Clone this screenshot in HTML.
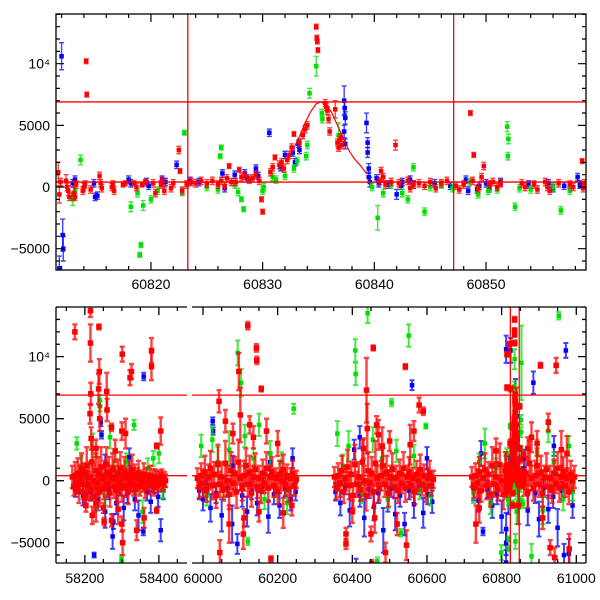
<!DOCTYPE html>
<html><head><meta charset="utf-8"><style>
html,body{margin:0;padding:0;background:#fff}
svg{display:block;font-family:"Liberation Sans",sans-serif}
</style></head><body>
<svg id="c" width="600" height="600" viewBox="0 0 600 600"></svg>
<script>
// ---- data: flat [time, value, error] triples ----
const topRed=[60811.7,1200,800,60811.8,-600,700,60811.9,400,300,60812.4,500,500,60812.5,0,300,60812.6,-300,400,60812.7,-800,300,60813.1,-500,500,60813.2,-800,300,60813.3,200,300,60813.9,-300,300,60814.0,0,300,60814.1,200,300,60814.2,10200,200,60814.25,7500,200,60814.6,-200,300,60815.4,900,300,60815.5,300,300,60815.6,-100,300,60816.5,0,300,60816.6,200,300,60816.7,-300,300,60817.5,200,200,60817.7,300,200,60818.5,300,200,60818.7,0,300,60819.2,200,200,60819.5,400,200,60820.2,300,300,60820.4,-500,300,60820.9,200,300,60821.0,500,300,60821.2,-300,300,60821.8,-100,300,60822.0,300,300,60822.5,3000,300,60822.6,1300,200,60822.8,-300,300,60823.2,200,300,60823.6,400,300,60824.0,300,300,60824.5,500,300,60825.0,300,300,60825.5,500,300,60826.0,200,300,60826.3,500,300,60826.6,100,300,60826.8,700,300,60827.0,1700,200,60827.2,400,300,60827.6,400,300,60827.9,1400,200,60828.1,800,300,60828.4,900,300,60828.8,600,300,60829.1,700,300,60829.4,1000,300,60829.7,500,300,60829.9,-1000,200,60830.0,-2000,200,60830.7,1200,300,60830.9,1600,300,60831.1,2400,200,60831.5,1800,300,60831.7,2000,300,60831.9,1500,300,60832.2,2200,300,60832.4,2600,300,60832.6,3200,300,60832.8,4300,200,60833.3,3600,300,60833.6,4200,300,60833.8,4700,300,60834.0,5000,300,60834.8,13000,200,60834.85,12100,200,60834.9,11800,200,60834.95,11100,200,60835.6,6800,300,60835.7,6500,300,60835.8,6200,300,60835.9,5500,300,60836.0,4500,300,60836.5,6300,700,60836.7,3600,300,60836.8,3200,300,60836.9,3800,300,60837.0,4000,300,60837.1,3400,300,60841.9,3400,400,60840.6,1300,300,60840.8,800,300,60840.5,500,300,60841.0,200,300,60841.5,400,300,60842.2,300,300,60843.0,500,300,60843.2,-100,300,60843.5,200,300,60844.0,300,300,60844.5,100,300,60845.0,400,300,60845.5,-100,300,60846.0,300,300,60846.5,500,300,60847.3,100,300,60847.6,-200,300,60848.0,200,300,60848.6,6000,200,60848.9,2600,200,60848.8,500,300,60849.3,-100,300,60849.8,1700,300,60849.6,800,300,60850.3,200,300,60850.6,400,300,60851.0,0,300,60851.3,300,300,60853.2,300,300,60853.5,0,300,60854.3,200,300,60854.6,-200,300,60855.3,400,300,60855.5,0,300,60855.7,-300,300,60856.5,300,300,60857.5,200,300,60857.8,0,300,60858.6,2100,200,60858.7,-100,300,60858.8,300,300];
const topBlue=[60811.8,-6600,1000,60812.0,10600,1100,60812.1,-3900,1300,60812.15,-5000,1000,60813.0,300,300,60813.2,600,300,60813.1,-700,300,60815.0,-800,300,60815.2,-700,300,60814.9,300,300,60818.0,600,300,60818.2,300,300,60819.6,400,300,60819.8,100,300,60821.0,600,300,60821.3,400,300,60822.3,1800,300,60823.5,500,300,60824.3,400,300,60826.4,1100,300,60826.6,-100,300,60827.5,1000,300,60828.4,1100,300,60828.6,700,300,60829.4,1500,300,60829.6,900,300,60830.6,4400,300,60831.6,1600,300,60832.0,2600,300,60832.7,2800,300,60832.9,2000,300,60833.2,3500,300,60833.3,3000,300,60837.3,7000,1200,60837.35,6400,500,60837.4,5600,500,60837.3,4500,500,60837.4,3500,400,60839.3,5200,800,60839.4,3600,400,60839.4,2800,400,60839.5,1500,400,60839.5,800,400,60839.6,400,400,60840.4,300,300,60840.2,700,300,60841.3,200,300,60842.0,-600,400,60842.4,100,300,60842.5,400,300,60843.2,600,300,60843.5,200,300,60845.4,300,300,60846.8,100,300,60848.2,600,300,60848.4,-300,300,60849.2,-200,300,60849.4,100,300,60850.0,300,300,60850.3,-100,300,60851.3,400,300,60853.8,200,300,60855.6,300,300,60856.0,-100,300,60857.0,100,300,60858.2,800,300,60858.4,200,300];
const topGreen=[60813.0,-1000,500,60813.2,-300,400,60813.7,2200,400,60818.2,-1600,400,60818.8,-500,300,60819.0,-5500,200,60819.1,-4700,200,60819.3,-1500,400,60820.0,-1000,300,60820.6,-300,300,60822.8,-400,300,60823.0,4400,200,60825.0,0,300,60826.0,-200,300,60826.2,2500,200,60826.3,3200,200,60827.5,200,300,60827.8,-400,300,60828.1,-1000,200,60828.3,-1800,200,60830.0,-300,300,60830.1,0,300,60830.9,800,300,60831.2,600,300,60832.0,900,300,60832.8,1500,300,60833.1,2100,300,60833.9,2500,300,60834.0,3400,300,60834.2,7600,400,60834.8,9800,800,60835.3,6000,300,60835.35,5500,300,60836.8,4200,1000,60839.8,0,300,60840.3,-2500,1000,60840.8,-500,300,60841.5,200,300,60842.5,-500,300,60843.0,-1000,300,60843.5,1600,300,60844.5,-2000,300,60845.0,0,300,60846.0,200,300,60847.0,-100,300,60848.5,400,300,60849.3,-600,300,60850.2,-300,300,60851.0,-200,300,60851.9,4900,400,60852.0,3900,400,60851.95,2500,300,60852.6,-1600,300,60853.0,-100,300,60854.0,-200,300,60856.0,0,300,60856.7,-1900,300,60857.5,-300,300];
const botRed=[58166,300,900,58170,-500,700,58174,400,1100,58177,-200,800,58181,600,1200,58184,-900,900,58188,200,1000,58191,900,1300,58195,-300,1200,58198,500,900,58202,-1100,1000,58205,1200,1500,58209,-400,1100,58212,300,1200,58216,-700,900,58219,1500,1800,58223,0,1200,58226,-1300,1200,58230,800,1400,58233,-200,1000,58237,600,1300,58240,-900,1200,58244,1100,1600,58247,200,1000,58251,-600,900,58254,400,1200,58258,1300,1400,58261,-300,1000,58265,700,1200,58268,-1000,1100,58272,300,900,58275,900,1300,58279,-500,900,58282,200,1000,58286,-800,1000,58289,600,1100,58293,-200,800,58296,1000,1300,58300,-600,1100,58303,300,900,58307,700,1200,58310,-400,900,58314,200,800,58317,-900,1000,58321,500,1100,58324,0,800,58328,900,1200,58331,-300,900,58335,400,900,58338,-700,1000,58342,200,800,58345,600,1000,58349,-400,800,58352,100,700,58356,-200,700,58359,500,900,58363,-600,800,58366,300,700,58370,0,600,58373,-400,700,58377,400,800,58380,-200,700,58384,200,700,58387,-500,700,58391,300,600,58394,0,700,58398,-300,600,58401,200,600,58405,-100,700,58408,300,600,58412,-200,600,58415,100,600,58418,0,500,
58173,12000,600,58215,13700,500,58215,11100,1500,58216,7000,900,58214,5400,800,58217,3400,900,58238,12400,200,58239,8800,1000,58237,7400,1200,58240,5000,1000,58259,7200,1500,58260,5700,900,58272,4300,300,58272,-3200,500,58301,10200,600,58300,4000,700,58322,8300,600,58326,8800,600,58380,10500,1000,58380,9200,1100,58394,2800,200,58394,-2400,200,58405,4000,1100,58250,-2200,400,58252,-3300,300,58300,-3500,600,58302,-5000,1000,58340,-4000,800,58200,-1400,600,58203,-2000,500,58220,-2800,700,58230,-1800,1500,58290,-2300,1200,58360,-3000,800,58310,3800,1200,58230,2600,700,58282,2400,900,
59985,200,800,59990,-500,900,59995,400,1000,60000,-200,1100,60005,700,1300,60010,-800,900,60015,300,1000,60020,1000,1400,60025,-400,1100,60030,500,1000,60035,-1200,1000,60040,1300,1600,60045,-300,1000,60050,300,1200,60055,-700,900,60060,1400,1800,60065,0,1200,60070,-1100,1200,60075,800,1500,60080,-200,1000,60085,600,1300,60090,-900,1300,60095,1500,1800,60100,200,1000,60105,-600,1000,60110,400,1200,60115,1200,1400,60120,-300,1000,60125,700,1300,60130,-1000,1100,60135,300,900,60140,900,1300,60145,-500,900,60150,200,1000,60155,-800,1000,60160,600,1100,60165,-200,800,60170,1000,1300,60175,-600,1100,60180,300,900,60185,700,1200,60190,-400,900,60195,200,800,60200,-900,1000,60205,500,1100,60210,0,800,60215,900,1200,60220,-300,900,60225,400,900,60230,-700,1000,60235,200,800,60240,600,1000,60245,-400,800,60250,100,700,
60043,6400,900,60045,-5800,1000,60096,8800,1500,60108,-4300,1200,60120,12500,300,60143,10700,300,60144,9700,300,60156,7400,200,60182,-6300,200,60060,4800,900,60070,-3500,1500,60100,5300,2200,60110,-3000,700,60125,4500,700,60135,3500,900,60170,4000,1000,60200,3000,1000,60215,-2600,1200,60238,-2000,800,60080,3800,800,60150,-2500,800,
60352,300,800,60357,-600,900,60362,400,1000,60367,-200,1100,60372,800,1200,60377,-900,900,60382,200,1000,60387,1100,1400,60392,-400,1100,60397,500,1000,60402,-1200,1000,60407,1300,1600,60412,-300,1000,60417,300,1200,60422,-700,900,60427,1500,1800,60432,0,1200,60437,-1200,1200,60442,800,1500,60447,-200,1000,60452,600,1300,60457,-900,1300,60462,1400,1800,60467,200,1000,60472,-600,1000,60477,400,1200,60482,1200,1400,60487,-300,1000,60492,700,1300,60497,-1000,1100,60502,300,900,60507,900,1300,60512,-500,900,60517,200,1000,60522,-800,1000,60527,600,1100,60532,-200,800,60537,1000,1300,60542,-600,1100,60547,300,900,60552,700,1200,60557,-400,900,60562,200,800,60567,-900,1000,60572,500,1100,60577,0,800,60582,900,1200,60587,-300,900,60592,400,900,60597,-700,1000,60602,200,800,60607,600,1000,60612,-400,800,60617,100,700,
60438,7300,2600,60440,4200,2000,60456,10700,200,60542,9200,200,60579,6100,600,60590,5600,300,60383,-5100,400,60383,-4300,500,60450,-4300,600,60452,-6700,300,60489,-5800,800,60470,3700,1200,60465,4500,700,60480,2800,1500,60500,3200,800,60520,-3500,900,60555,2900,1600,60545,-5200,1200,60565,4000,800,60400,-2500,900,60460,-3000,1200,60430,2600,800,
60720,300,800,60725,-500,900,60730,400,1000,60735,-200,1100,60740,700,1200,60745,-800,900,60750,200,1000,60755,900,1300,60760,-400,1100,60765,500,1000,60770,-1100,1000,60775,1200,1500,60780,-300,1000,60785,300,1200,60790,-700,900,60795,1300,1700,60800,0,1200,60805,-1100,1200,60810,800,1500,60860,-200,1000,60865,600,1300,60870,-900,1300,60875,1400,1800,60880,200,1000,60885,-600,1000,60890,400,1200,60895,1200,1400,60900,-300,1000,60905,700,1300,60910,-1000,1100,60915,300,900,60920,900,1300,60925,-500,900,60930,200,1000,60935,-800,1000,60940,600,1100,60945,-200,800,60950,1000,1300,60955,-600,1100,60960,300,900,60965,700,1200,60970,-400,900,60975,200,800,60980,-900,1000,60985,500,1100,60990,0,800,60995,300,900,
60821,11000,200,60825,7400,200,60904,9300,200,60946,9300,600,60731,-3500,1500,60930,-5400,600,60942,-6200,800,60981,-5500,1200,60840,4500,3000,60845,-2000,1500,60880,3500,1200,60895,3000,1000,60960,2500,1500,60910,-3000,900,60870,2600,900,60925,4700,700,60975,2200,1400,60740,-2200,1200,60785,2400,1000];
const botBlue=[58175,-700,600,58185,-300,500,58195,-1200,800,58205,200,600,58215,-900,700,58225,-6000,200,58235,-1500,900,58243,4700,300,58245,3700,300,58255,-2500,1300,58265,-800,700,58275,-4500,1000,58277,-3300,600,58285,-1800,900,58295,-600,600,58305,-2200,1000,58315,-1000,800,58325,-300,600,58335,-1500,900,58345,-2800,1200,58358,-4100,300,58359,8400,300,58368,-900,700,58378,-1700,900,58388,-400,600,58398,-1300,800,58405,-4000,900,58412,-800,700,58255,1300,800,58320,1900,700,
59990,-800,700,60000,-1500,900,60010,-400,600,60020,-2200,1100,60026,4800,300,60027,4000,300,60035,-1000,800,60050,-2800,1300,60065,-600,700,60078,-3500,1500,60092,-5100,800,60105,-1200,900,60118,-2500,1200,60130,-800,700,60145,-1800,1000,60160,-400,600,60175,-2900,1300,60190,-1100,800,60205,-2000,1000,60220,-600,700,60235,-1500,900,60248,-900,700,60080,1200,800,60180,1500,700,60240,1800,800,
60355,-900,700,60368,-1800,1000,60380,-500,600,60393,-2400,1300,60405,2500,800,60410,-6900,600,60420,-1200,900,60432,-3000,1500,60445,-700,700,60458,-2100,1100,60470,-1000,800,60483,-4000,1800,60495,-1500,1000,60505,-600,700,60515,-2700,1300,60528,-1200,900,60540,-3500,900,60552,-800,700,60560,7700,400,60565,-1900,1100,60578,-500,600,60590,-2600,1200,60602,-1100,800,60614,-1700,900,60420,3500,900,60600,1800,900,
60725,-900,700,60738,-1600,900,60745,2200,1000,60750,-4100,300,60762,-700,700,60775,-2000,1000,60788,-1100,800,60800,-2900,1300,60824,10500,1000,60818,-1500,1200,60870,-2400,1200,60885,7900,900,60890,-1000,800,60900,-3100,1400,60912,-600,700,60925,-2300,1100,60938,-1300,900,60950,-3800,1500,60962,-800,700,60967,-6000,900,60972,10500,600,60980,-5900,1200,60990,-2000,1000,60860,1800,700,60940,2800,800];
const botGreen=[58178,3000,500,58190,1200,800,58205,-600,700,58222,2600,1200,58240,6500,400,58241,6000,400,58255,-1200,800,58268,3500,900,58280,800,900,58299,-6300,300,58300,-6700,200,58312,1500,700,58333,4500,400,58345,-400,700,58356,-2500,900,58370,1000,800,58385,1800,600,58400,2200,800,58410,-800,600,58230,-1200,1200,
59995,2800,900,60010,-1200,800,60025,3300,1000,60040,1500,1200,60055,-800,700,60070,2500,1500,60093,10300,1000,60102,7900,1100,60112,3600,900,60120,-4900,300,60135,1800,800,60150,4500,900,60165,-1500,800,60180,2200,1000,60195,-600,700,60210,1500,800,60225,-1800,900,60243,5800,400,
60360,3800,1000,60375,1200,900,60390,2800,1200,60408,10500,900,60409,8600,900,60425,-1000,800,60441,13500,800,60455,3300,1000,60467,-6500,300,60480,1800,800,60495,-1500,700,60505,6300,300,60518,2400,900,60530,-4200,300,60551,11700,900,60565,2000,900,60580,-800,700,60597,4400,200,60610,-1200,800,
60725,-1000,800,60740,1500,700,60755,3000,1200,60770,-1800,900,60785,1000,800,60799,-5800,600,60837,-4900,600,60853,9500,3000,60880,-6100,1000,60895,2300,1000,60910,-2400,1100,60925,4000,900,60940,1500,800,60953,13300,300,60965,-1500,900,60980,2800,800,60990,-900,700];
const modelT=[60832.1,60832.7,60833.3,60833.8,60834.3,60834.8,60835.2,60835.7,60836.2,60836.7,60837.2,60837.7,60838.2,60838.7,60839.3];
const modelV=[2080,3000,4100,5200,6100,6750,6900,6700,6000,5000,4000,3000,2300,1800,1100];
const hLines=[6900,400];
const vLines=[60823.3,60847.1];
const topXTicks=[60820,60830,60840,60850];
const botXTicks=[58200,58400,60000,60200,60400,60600,60800,61000];
const yTicks=[-5000,0,5000,10000];
const yTickLabels=["\u22125000","0","5000","10\u2074"];

const NS="http://www.w3.org/2000/svg";
const svg=document.getElementById('c');
function mk(tag,at,parent){const e=document.createElementNS(NS,tag);for(const k in at)e.setAttribute(k,at[k]);(parent||svg).appendChild(e);return e;}
const defs=mk('defs',{});

const topP={x0:56,x1:586,y0:14,y1:270,t0:60811.5,t1:60858.95,v0:-6730,v1:14030};
const topX=t=>topP.x0+(t-topP.t0)/(topP.t1-topP.t0)*(topP.x1-topP.x0);
const topY=v=>topP.y1-(v-topP.v0)/(topP.v1-topP.v0)*(topP.y1-topP.y0);
const bot={y0:307,y1:563,v0:-6640,v1:14005};
const segs=[{x0:56,x1:187,t0:58122,t1:58476},{x0:192,x1:586,t0:59970.5,t1:61026}];
const botY=v=>bot.y1-(v-bot.v0)/(bot.v1-bot.v0)*(bot.y1-bot.y0);
function botX(t){for(const s of segs){if(t>=s.t0&&t<=s.t1)return s.x0+(t-s.t0)/(s.t1-s.t0)*(s.x1-s.x0);}return null;}

const ct=mk('clipPath',{id:'ctop'},defs);
mk('rect',{x:topP.x0,y:topP.y0,width:topP.x1-topP.x0,height:topP.y1-topP.y0},ct);
const cb=mk('clipPath',{id:'cbot'},defs);
segs.forEach(s=>mk('rect',{x:s.x0,y:bot.y0,width:s.x1-s.x0,height:bot.y1-bot.y0},cb));

const colors={red:'#ff0000',green:'#00e000',blue:'#0000ff'};
function drawSeries(g,arr,color,X,Y,name,ms,sw){
  const sg=mk('g',{},g);
  
  
  for(let i=0;i<arr.length;i+=3){
    const x=X(arr[i]);if(x===null)continue;
    const y=Y(arr[i+1]),ya=Y(arr[i+1]+arr[i+2]),yb=Y(arr[i+1]-arr[i+2]);
    const p=mk('path',{d:`M${x},${ya}V${yb}M${x-2.5},${ya}h5M${x-2.5},${yb}h5`,stroke:color,'stroke-width':sw,'stroke-opacity':0.75,fill:'none'},sg);
    
    
    const r=mk('rect',{x:x-ms/2,y:y-ms/2,width:ms,height:ms,fill:color},sg);
    
    
  }
}

// ---------- top panel ----------
const gt=mk('g',{'clip-path':'url(#ctop)'});


drawSeries(gt,topBlue,colors.blue,topX,topY,'top-blue-series',4.5,1.4);
drawSeries(gt,topGreen,colors.green,topX,topY,'top-green-series',4.5,1.4);
drawSeries(gt,topRed,colors.red,topX,topY,'top-red-series',4.5,1.4);
hLines.forEach(v=>{const l=mk('line',{x1:topP.x0,x2:topP.x1,y1:topY(v),y2:topY(v),stroke:'#f00','stroke-width':1.3},gt);});
vLines.forEach(t=>{const l=mk('line',{x1:topX(t),x2:topX(t),y1:topP.y0,y2:topP.y1,stroke:'#f00','stroke-width':1.3},gt);});
const mp=mk('polyline',{points:modelT.map((t,i)=>topX(t)+','+topY(modelV[i])).join(' '),fill:'none',stroke:'#f00','stroke-width':1.2},gt);



const ft=mk('rect',{x:topP.x0,y:topP.y0,width:topP.x1-topP.x0,height:topP.y1-topP.y0,fill:'none',stroke:'#000','stroke-width':1.3});


let tk='';
for(let t=60812;t<=60858;t+=2){const x=topX(t),L=(t%10===0)?8:4;tk+=`M${x},${topP.y1}v${-L}M${x},${topP.y0}v${L}`;}
for(let v=-6000;v<=14000;v+=1000){const y=topY(v),L=(v%5000===0)?8:4;tk+=`M${topP.x0},${y}h${L}M${topP.x1},${y}h${-L}`;}
const tp=mk('path',{d:tk,stroke:'#000','stroke-width':1.2,fill:'none'});


topXTicks.forEach(t=>{const e=mk('text',{x:topX(t),y:289,'text-anchor':'middle','font-size':14});e.textContent=t;});
yTicks.forEach((v,i)=>{const e=mk('text',{x:50,y:topY(v)+5,'text-anchor':'end','font-size':14});e.textContent=yTickLabels[i];});

// ---------- bottom panel ----------
const gb=mk('g',{'clip-path':'url(#cbot)'});


drawSeries(gb,botBlue.concat(topBlue),colors.blue,botX,botY,'bottom-blue-series',4.5,2);
drawSeries(gb,botGreen.concat(topGreen),colors.green,botX,botY,'bottom-green-series',4.5,2);
drawSeries(gb,botRed.concat(topRed),colors.red,botX,botY,'bottom-red-series',5.5,2.4);
hLines.forEach(v=>segs.forEach(s=>{const l=mk('line',{x1:s.x0,x2:s.x1,y1:botY(v),y2:botY(v),stroke:'#f00','stroke-width':1.3},gb);}));
vLines.forEach(t=>{const x=botX(t);const l=mk('line',{x1:x,x2:x,y1:bot.y0,y2:bot.y1,stroke:'#f00','stroke-width':1.3},gb);});

let bk='';
segs.forEach(s=>{bk+=`M${s.x0},${bot.y0}H${s.x1}M${s.x0},${bot.y1}H${s.x1}`;
  for(let t=Math.ceil(s.t0/50)*50;t<=s.t1;t+=50){const x=botX(t),L=(t%200===0)?8:4;bk+=`M${x},${bot.y1}v${-L}M${x},${bot.y0}v${L}`;}});
bk+=`M${segs[0].x0},${bot.y0}V${bot.y1}M${segs[1].x1},${bot.y0}V${bot.y1}`;
for(let v=-6000;v<=14000;v+=1000){const y=botY(v),L=(v%5000===0)?8:4;bk+=`M${segs[0].x0},${y}h${L}M${segs[1].x1},${y}h${-L}`;}
const bp=mk('path',{d:bk,stroke:'#000','stroke-width':1.3,fill:'none'});


botXTicks.forEach(t=>{const e=mk('text',{x:botX(t),y:583,'text-anchor':'middle','font-size':14});e.textContent=t;});
yTicks.forEach((v,i)=>{const e=mk('text',{x:50,y:botY(v)+5,'text-anchor':'end','font-size':14});e.textContent=yTickLabels[i];});
</script>
</body></html>
